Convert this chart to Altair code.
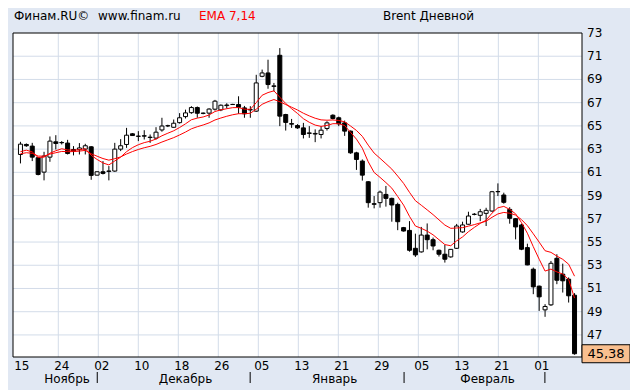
import altair as alt
import pandas as pd

FONT = "DejaVu Sans"
GRID = "#D3DCE9"
BG = "#E1E8F3"

# ---- data (one candle per trading day) ----
opens = [62.54, 63.40, 63.26, 62.26, 61.02, 62.31, 63.63, 63.57, 63.52, 62.97,
         62.95, 63.00, 63.20, 60.76, 61.05, 61.08, 61.11, 63.00, 63.40, 64.32,
         64.10, 64.15, 64.00, 63.95, 64.65, 65.00, 64.88, 65.28, 65.80, 66.14,
         66.58, 66.10, 66.10, 66.44, 66.38, 66.75, 66.85, 66.84, 66.55, 66.40,
         66.27, 69.27, 69.56, 68.40, 71.08, 65.98, 65.20, 65.03, 64.83, 64.35,
         64.30, 64.26, 64.78, 65.92, 65.70, 65.26, 64.55, 62.68, 61.97, 60.19,
         58.30, 58.39, 59.10, 58.76, 58.24, 56.24, 56.00, 54.46, 54.15, 55.60,
         55.20, 54.29, 53.95, 53.72, 54.46, 55.87, 56.53, 57.39, 57.30, 57.47,
         57.67, 59.33, 59.05, 57.81, 57.01, 56.47, 54.52, 52.66, 51.20, 49.16,
         49.59, 53.60, 52.23, 51.80, 50.42]
highs = [63.63, 63.49, 63.54, 62.31, 62.77, 64.09, 64.20, 63.69, 63.80, 63.26,
         63.52, 63.46, 63.26, 61.08, 61.97, 61.54, 63.54, 63.86, 64.83, 64.38,
         64.55, 64.63, 64.26, 64.89, 65.70, 65.10, 65.55, 66.10, 66.40, 66.70,
         66.67, 66.15, 66.52, 67.24, 66.85, 66.95, 66.90, 67.55, 66.72, 66.70,
         69.40, 69.85, 70.70, 68.70, 71.70, 66.04, 65.60, 65.15, 65.26, 64.98,
         64.70, 64.98, 65.40, 66.00, 65.80, 65.46, 64.60, 62.77, 62.11, 60.25,
         58.96, 59.43, 59.83, 58.82, 58.39, 56.30, 56.80, 55.72, 56.30, 56.60,
         55.38, 54.35, 54.75, 54.40, 56.56, 56.75, 57.61, 57.50, 57.85, 57.95,
         59.40, 60.05, 59.25, 58.00, 57.05, 56.58, 54.86, 52.80, 51.25, 49.65,
         53.37, 53.95, 53.14, 51.95, 50.60]
lows = [61.77, 63.20, 61.97, 60.74, 60.31, 61.91, 62.97, 63.40, 62.54, 62.46,
        62.54, 62.54, 60.36, 60.74, 60.82, 60.31, 61.05, 62.83, 63.11, 64.14,
        63.69, 63.83, 63.54, 63.83, 64.50, 64.90, 64.85, 65.20, 65.64, 66.04,
        65.70, 66.00, 65.70, 66.32, 66.27, 66.50, 66.80, 66.04, 65.70, 65.70,
        66.20, 69.19, 68.20, 67.98, 64.98, 64.60, 64.83, 64.75, 63.92, 63.97,
        63.60, 63.92, 64.60, 65.55, 64.98, 64.14, 62.60, 61.21, 60.29, 57.96,
        57.90, 57.96, 58.05, 56.75, 56.02, 55.90, 54.17, 53.72, 54.09, 54.37,
        54.29, 53.75, 53.23, 53.65, 54.40, 55.80, 56.50, 57.30, 56.80, 56.38,
        57.60, 58.96, 58.30, 56.58, 55.23, 54.30, 53.00, 50.51, 49.07, 48.56,
        49.50, 51.37, 50.65, 49.79, 45.30]
closes = [63.43, 63.29, 62.31, 60.82, 62.40, 63.69, 63.49, 63.55, 62.63, 62.83,
          63.10, 63.29, 60.74, 61.05, 60.91, 61.12, 63.00, 63.29, 64.20, 64.17,
          64.12, 64.12, 64.03, 64.46, 64.99, 65.02, 65.23, 65.70, 66.12, 66.58,
          66.09, 66.08, 66.45, 67.13, 66.78, 66.80, 66.84, 66.60, 66.04, 66.38,
          68.70, 69.56, 68.56, 68.45, 65.84, 65.30, 65.15, 64.83, 64.26, 64.40,
          64.35, 64.63, 65.26, 65.64, 65.18, 64.55, 62.68, 62.11, 60.76, 58.39,
          58.25, 59.30, 58.76, 58.19, 56.75, 55.95, 54.29, 53.89, 55.60, 55.20,
          54.66, 53.95, 53.52, 54.37, 56.38, 56.47, 57.24, 57.38, 57.61, 57.73,
          59.33, 59.35, 58.42, 57.04, 56.30, 54.38, 53.03, 51.14, 50.28, 49.45,
          53.17, 51.71, 51.66, 50.37, 45.38]
ema7 = [62.78, 62.91, 62.76, 62.28, 62.31, 62.65, 62.86, 63.03, 62.93, 62.91,
        62.95, 63.04, 62.47, 62.11, 61.81, 61.64, 61.98, 62.31, 62.78, 63.13,
        63.38, 63.56, 63.68, 63.87, 64.15, 64.37, 64.58, 64.86, 65.18, 65.53,
        65.67, 65.77, 65.94, 66.24, 66.38, 66.48, 66.57, 66.58, 66.44, 66.43,
        67.00, 67.64, 67.87, 68.02, 67.47, 66.93, 66.48, 66.07, 65.62, 65.31,
        65.07, 64.96, 65.04, 65.19, 65.19, 65.03, 64.44, 63.86, 63.08, 61.91,
        60.99, 60.57, 60.12, 59.64, 58.92, 58.18, 57.21, 56.38, 56.18, 55.94,
        55.62, 55.20, 54.78, 54.68, 55.10, 55.44, 55.89, 56.26, 56.60, 56.88,
        57.49, 57.95, 58.07, 57.81, 57.43, 56.67, 55.76, 54.60, 53.52, 52.50,
        52.67, 52.43, 52.24, 51.77, 50.17]
ema14 = [62.60, 62.69, 62.64, 62.40, 62.40, 62.57, 62.69, 62.80, 62.78, 62.79,
         62.83, 62.89, 62.60, 62.39, 62.19, 62.05, 62.18, 62.33, 62.58, 62.79,
         62.97, 63.12, 63.24, 63.40, 63.61, 63.80, 63.99, 64.22, 64.47, 64.75,
         64.93, 65.08, 65.26, 65.51, 65.68, 65.83, 65.96, 66.05, 66.05, 66.09,
         66.44, 66.86, 67.09, 67.27, 67.08, 66.84, 66.61, 66.37, 66.09, 65.86,
         65.66, 65.52, 65.49, 65.51, 65.47, 65.35, 64.99, 64.61, 64.10, 63.34,
         62.66, 62.21, 61.75, 61.28, 60.68, 60.05, 59.28, 58.56, 58.17, 57.77,
         57.36, 56.91, 56.46, 56.18, 56.21, 56.24, 56.37, 56.50, 56.65, 56.79,
         57.13, 57.42, 57.55, 57.48, 57.32, 56.93, 56.41, 55.71, 54.99, 54.25,
         54.11, 53.79, 53.51, 53.09, 52.06]

date_labels = ["15", "24", "02", "10", "18", "26", "05", "13", "21", "29",
               "05", "13", "21", "01"]
months = ["Ноябрь", "Декабрь", "Январь", "Февраль"]
month_pos = [7.9, 28.0, 53.3, 79.25]          # candle-index position of label centre
month_sep = [13.03, 38.97, 65.08, 88.97]       # candle-index position of "|" separators
y_ticks = list(range(47, 74, 2))

n = len(closes)
df = pd.DataFrame({"i": list(range(n)), "open": opens, "high": highs,
                   "low": lows, "close": closes})
ema_df = pd.DataFrame({"i": list(range(n)) * 2, "v": ema7 + ema14,
                       "s": ["EMA7"] * n + ["EMA14"] * n})
month_df = pd.DataFrame({"name": months, "pos": month_pos})
sep_df = pd.DataFrame({"pos": month_sep})
last_df = df.tail(1).copy()
last_df["label"] = [f"{c:.2f}".replace(".", ",") for c in last_df["close"]]

# date-label grid: 14 equal divisions of the time axis
GSTEP = 6.787
GOFF = -0.37
grid_vals = [round(GOFF + GSTEP * k, 3) for k in range(len(date_labels))]
xtick_df = pd.DataFrame({"g": grid_vals, "t": date_labels})
ytick_df = pd.DataFrame({"v": y_ticks, "t": [str(v) for v in y_ticks]})

xs = alt.Scale(domain=[-0.4167, 94.4167], nice=False, zero=False)
ys = alt.Scale(domain=[45.1, 73], nice=False, zero=False)
W, H = 569, 324

hgrid = alt.Chart(ytick_df).transform_filter("datum.v < 73").mark_rule(
    color=GRID, strokeWidth=1).encode(
    y=alt.Y("v:Q", scale=ys, axis=None), x=alt.value(0), x2=alt.value(W))
vgrid = alt.Chart(xtick_df).transform_filter("datum.g > 0").mark_rule(
    color=GRID, strokeWidth=1).encode(
    x=alt.X("g:Q", scale=xs, axis=None), y=alt.value(0), y2=alt.value(H))

wicks = alt.Chart(df).mark_rule(color="black", strokeWidth=1).encode(
    x=alt.X("i:Q", scale=xs, axis=None),
    y=alt.Y("low:Q", scale=ys, axis=None),
    y2="high:Q",
)
bodies = alt.Chart(df).mark_bar(size=4, stroke="black", strokeWidth=1).encode(
    x=alt.X("i:Q", axis=None),
    y=alt.Y("open:Q", axis=None),
    y2="close:Q",
    fill=alt.condition("datum.close >= datum.open", alt.value("white"), alt.value("black")),
)
emas = alt.Chart(ema_df).mark_line(color="#FF0000", strokeWidth=1).encode(
    x=alt.X("i:Q", axis=None),
    y=alt.Y("v:Q", axis=None),
    detail="s:N",
)

frame = alt.Chart(pd.DataFrame({"f": [0]})).mark_rect(
    fill=None, stroke="black", strokeWidth=1,
).encode(x=alt.value(0), x2=alt.value(W), y=alt.value(0), y2=alt.value(H))

ylabels = alt.Chart(ytick_df).mark_text(
    font=FONT, fontSize=12, color="black", align="left", baseline="middle",
).encode(y=alt.Y("v:Q", axis=None), x=alt.value(W + 5), text="t:N")
xlabels = alt.Chart(xtick_df).mark_text(
    font=FONT, fontSize=12, color="black", align="center", baseline="alphabetic", dx=3.5,
).encode(x=alt.X("g:Q", axis=None), y=alt.value(H + 12.5), text="t:N")

box = alt.Chart(last_df).mark_point(
    shape="M-1,-0.375H1V0.375H-1Z", size=2304, filled=True, fill="#F9BF8F",
    stroke="black", strokeWidth=1, opacity=1,
).encode(x=alt.value(593), y=alt.Y("close:Q", axis=None))
box_text = alt.Chart(last_df).mark_text(
    font=FONT, fontSize=13, color="black", align="center", baseline="middle",
).encode(x=alt.value(593), y=alt.Y("close:Q", axis=None), text="label:N")

month_text = alt.Chart(month_df).mark_text(
    font=FONT, fontSize=12, color="black", align="center", baseline="alphabetic",
).encode(x=alt.X("pos:Q", axis=None), y=alt.value(350), text="name:N")
seps = alt.Chart(sep_df).mark_rule(color="black", strokeWidth=1).encode(
    x=alt.X("pos:Q", axis=None), y=alt.value(339), y2=alt.value(350),
)


def header(txt, xpos, color="black"):
    return alt.Chart(pd.DataFrame({"t": [txt]})).mark_text(
        font=FONT, fontSize=12, color=color, align="left", baseline="alphabetic",
    ).encode(x=alt.value(xpos), y=alt.value(-13), text="t:N")


chart = alt.layer(
    hgrid, vgrid, wicks, bodies, emas, frame, ylabels, xlabels,
    box, box_text, month_text, seps,
    header("Финам.RU©", 1),
    header("www.finam.ru", 85),
    header("EMA 7,14", 186, "#FF0000"),
    header("Brent Дневной", 370),
).properties(
    width=W, height=H,
    autosize=alt.AutoSizeParams(type="none"),
    padding={"left": 5, "top": 25, "right": 48, "bottom": 33},
    background=BG,
).configure_view(stroke=None, fill="white")

chart.save("out.html", embed_options={"renderer": "svg", "actions": False})
